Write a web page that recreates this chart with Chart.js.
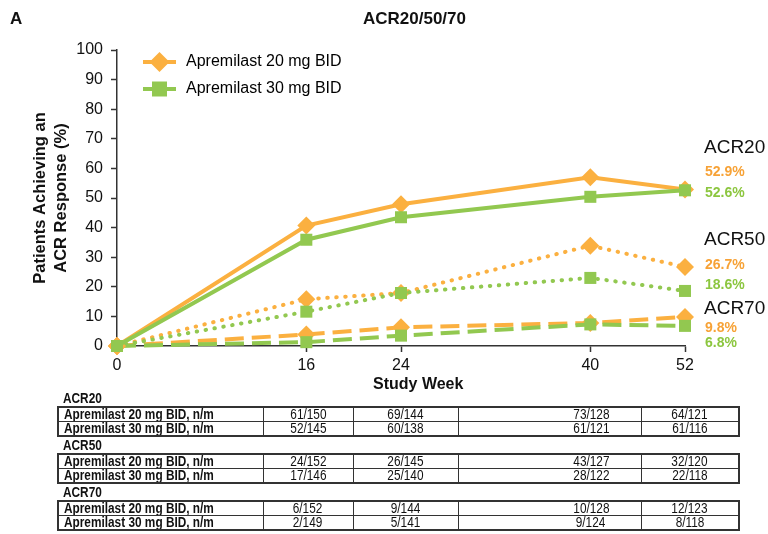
<!DOCTYPE html>
<html>
<head>
<meta charset="utf-8">
<script src="https://cdn.jsdelivr.net/npm/chart.js@4.4.1/dist/chart.umd.min.js"></script>
<style>
  body { margin: 0; background: #fff; font-family: "Liberation Sans", Arial, sans-serif; color: #111; }
  #wrap { position: relative; width: 768px; height: 534px; overflow: hidden; }
  #chartBox { position: absolute; left: 0; top: 0; width: 768px; height: 392px; }
  .txt { position: absolute; white-space: nowrap; line-height: 1; transform: translateY(-50%); }
  .bold { font-weight: bold; }
  #tables { position: absolute; left: 57px; top: 390px; width: 681px; }
  .grp { font-weight: bold; font-size: 14px; height: 16px; line-height: 16px; padding-left: 6px; }
  table { border-collapse: collapse; width: 681px; table-layout: fixed; border: 2px solid #333; font-size: 14px; }
  td { border: 1px solid #333; height: 13px; line-height: 13px; padding: 0; text-align: center; white-space: nowrap; overflow: hidden; }
  td.name { text-align: left; padding-left: 5px; font-weight: bold; }
  td.wide { padding-left: 83px; }
  .nar { display: inline-block; transform: scaleX(0.845); transform-origin: center; }
  .grp .nar, td.name .nar { transform-origin: left; }
</style>
</head>
<body>
<div id="wrap">
  <div id="chartBox"><canvas id="chart" width="768" height="392"></canvas></div>
  <div class="txt bold" style="left:10px;top:18px;font-size:17px;">A</div>
  <div class="txt bold" style="left:363px;top:18px;font-size:17px;">ACR20/50/70</div>
  <div class="txt bold" style="left:373px;top:384px;font-size:16px;">Study Week</div>
  <div id="endLabels"></div>
  <div id="tables"></div>
</div>
<script>
// Werte aus der Abbildung (Woche 0..52)
const weeks = [0, 16, 24, 40, 52];
const axisWeeks = ['0', '8', '16', '24', '32', '40', '52'];
const hiddenWeeks = ['8', '32'];
const doseNames = ['Apremilast 20 mg BID', 'Apremilast 30 mg BID'];

const acr20Dose20 = [0, 40.7, 47.9, 57.0, 52.9];
const acr20Dose30 = [0, 35.9, 43.5, 50.4, 52.6];
const acr50Dose20 = [0, 15.8, 17.9, 33.9, 26.7];
const acr50Dose30 = [0, 11.6, 17.9, 23.0, 18.6];
const acr70Dose20 = [0, 3.9, 6.3, 7.8, 9.8];
const acr70Dose30 = [0, 1.3, 3.5, 7.3, 6.8];

const endpoints = ['ACR20', 'ACR50', 'ACR70'];
const endPct20 = ['52.9%', '26.7%', '9.8%'];
const endPct30 = ['52.6%', '18.6%', '6.8%'];

// Tabelle n/m
const rowLabels = ['Apremilast 20 mg BID, n/m', 'Apremilast 30 mg BID, n/m'];
const nm20 = [
  ['61/150', '69/144', '73/128', '64/121'],
  ['24/152', '26/145', '43/127', '32/120'],
  ['6/152', '9/144', '10/128', '12/123']
];
const nm30 = [
  ['52/145', '60/138', '61/121', '61/116'],
  ['17/146', '25/140', '28/122', '22/118'],
  ['2/149', '5/141', '9/124', '8/118']
];

const ORANGE = '#FBB040';
const GREEN = '#92C850';
const ORANGE_TXT = '#F7A236';
const GREEN_TXT = '#8CC63F';
const FONT = '"Liberation Sans", Arial, sans-serif';

const toPoints = vals => weeks.map((w, i) => ({ x: String(w), y: vals[i] }));

function lineStyle(kind) {
  if (kind === 'dot') return { borderWidth: 4, borderDash: [0.5, 8.5], borderCapStyle: 'round' };
  if (kind === 'dash') return { borderWidth: 4, borderDash: [19, 8], borderCapStyle: 'butt' };
  return { borderWidth: 4, borderDash: [], borderCapStyle: 'butt' };
}

function series(label, vals, color, kind) {
  const diamond = color === ORANGE;
  return Object.assign({
    label: label,
    data: toPoints(vals),
    borderColor: color,
    backgroundColor: color,
    pointBackgroundColor: color,
    pointBorderWidth: 0,
    pointStyle: diamond ? 'rectRot' : 'rect',
    pointRadius: diamond ? 9 : 8.5,
    pointHoverRadius: diamond ? 9 : 8.5,
    tension: 0,
    clip: false
  }, lineStyle(kind));
}

// Legendensymbol: Linie mit Marker
function legendIcon(color, diamond) {
  const c = document.createElement('canvas');
  c.width = 50; c.height = 22;
  const g = c.getContext('2d');
  g.strokeStyle = color; g.lineWidth = 4;
  g.beginPath(); g.moveTo(15, 11); g.lineTo(48, 11); g.stroke();
  g.fillStyle = color;
  g.beginPath();
  if (diamond) {
    g.moveTo(31.5, 1); g.lineTo(41.5, 11); g.lineTo(31.5, 21); g.lineTo(21.5, 11);
  } else {
    g.rect(24, 3.5, 15, 15);
  }
  g.closePath(); g.fill();
  return c;
}

// gruen zuerst, damit es oben liegt
const datasets = [
  series(doseNames[1], acr20Dose30, GREEN, 'solid'),
  series(doseNames[0], acr20Dose20, ORANGE, 'solid'),
  series(doseNames[1], acr50Dose30, GREEN, 'dot'),
  series(doseNames[0], acr50Dose20, ORANGE, 'dot'),
  series(doseNames[1], acr70Dose30, GREEN, 'dash'),
  series(doseNames[0], acr70Dose20, ORANGE, 'dash')
];

const legendNudge = {
  id: 'legendNudge',
  afterLayout(chart) {
    if (!chart.legend) return;
    chart.legend.left = chart.chartArea.left;
    chart.legend.top = chart.chartArea.top - 7;
  }
};

const ctx = document.getElementById('chart').getContext('2d');
new Chart(ctx, {
  type: 'line',
  data: { labels: axisWeeks, datasets: datasets },
  options: {
    responsive: false,
    animation: false,
    events: [],
    layout: { padding: { top: 50, right: 83, bottom: 0, left: 0 } },
    plugins: {
      legend: {
        position: 'chartArea',
        align: 'start',
        labels: {
          usePointStyle: true,
          pointStyleWidth: 50,
          padding: 11,
          color: '#111',
          font: { family: FONT, size: 16 },
          generateLabels: () => [
            { text: doseNames[0], pointStyle: legendIcon(ORANGE, true), fillStyle: ORANGE, strokeStyle: ORANGE, lineWidth: 0, hidden: false, datasetIndex: 1 },
            { text: doseNames[1], pointStyle: legendIcon(GREEN, false), fillStyle: GREEN, strokeStyle: GREEN, lineWidth: 0, hidden: false, datasetIndex: 0 }
          ]
        }
      },
      tooltip: { enabled: false }
    },
    scales: {
      x: {
        type: 'category',
        offset: false,
        afterFit: s => { s.height = 46; },
        border: { color: '#333', width: 1.5 },
        grid: {
          drawOnChartArea: false,
          tickLength: 6,
          tickWidth: 1.5,
          tickColor: c => hiddenWeeks.includes(axisWeeks[c.index]) ? 'rgba(0,0,0,0)' : '#333'
        },
        ticks: {
          autoSkip: false,
          maxRotation: 0,
          padding: 4,
          color: '#111',
          font: { family: FONT, size: 16 },
          callback: (v, i) => hiddenWeeks.includes(axisWeeks[i]) ? '' : axisWeeks[i]
        }
      },
      y: {
        min: 0,
        max: 100,
        afterFit: s => { s.width = 117; },
        border: { color: '#333', width: 1.5 },
        grid: { drawOnChartArea: false, tickLength: 6, tickWidth: 1.5, tickColor: '#333' },
        ticks: {
          stepSize: 10,
          padding: 8,
          color: '#111',
          font: { family: FONT, size: 16 }
        },
        title: {
          display: true,
          text: ['Patients Achieving an', 'ACR Response (%)'],
          color: '#111',
          padding: { top: 29, bottom: 0 },
          font: { family: FONT, size: 16.5, weight: 'bold', lineHeight: 1.33 }
        }
      }
    }
  },
  plugins: [legendNudge]
});

// Endpunkt-Beschriftungen rechts
const endTops = [[146, 171, 192], [238, 264, 284], [307, 327, 342]];
const endBox = document.getElementById('endLabels');
endpoints.forEach((name, i) => {
  endBox.insertAdjacentHTML('beforeend',
    `<div class="txt" style="left:704px;top:${endTops[i][0]}px;font-size:19px;">${name}</div>` +
    `<div class="txt bold" style="left:705px;top:${endTops[i][1]}px;font-size:14px;color:${ORANGE_TXT}">${endPct20[i]}</div>` +
    `<div class="txt bold" style="left:705px;top:${endTops[i][2]}px;font-size:14px;color:${GREEN_TXT}">${endPct30[i]}</div>`);
});

// Tabellen (schmale Schrift per scaleX)
const colW = [205, 90, 105, 183, 98];
const nar = t => `<span class="nar">${t}</span>`;
const tables = document.getElementById('tables');
endpoints.forEach((name, g) => {
  let html = `<div class="grp">${nar(name)}</div><table><colgroup>` +
    colW.map(w => `<col style="width:${w}px">`).join('') + '</colgroup>';
  [nm20[g], nm30[g]].forEach((cells, r) => {
    html += `<tr><td class="name">${nar(rowLabels[r])}</td>` +
      cells.map((c, k) => `<td${k === 2 ? ' class="wide"' : ''}>${nar(c)}</td>`).join('') + '</tr>';
  });
  html += '</table>';
  tables.insertAdjacentHTML('beforeend', html);
});
</script>
</body>
</html>
